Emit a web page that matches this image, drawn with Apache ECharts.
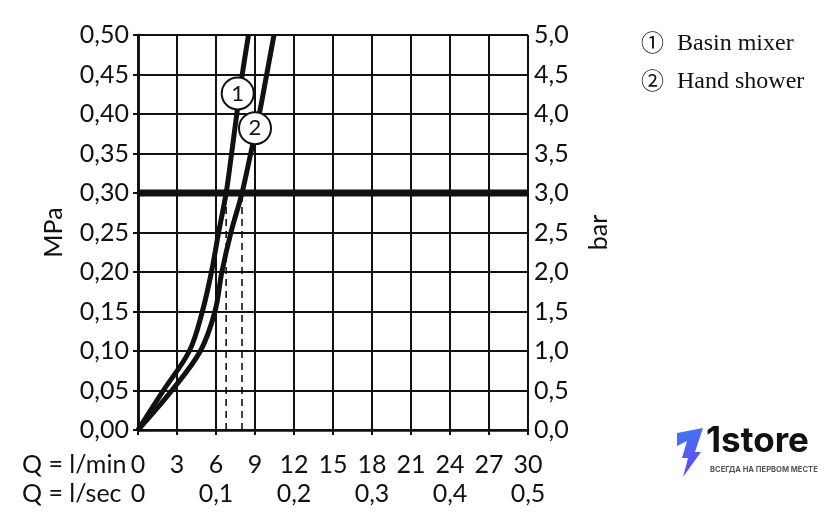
<!DOCTYPE html>
<html>
<head>
<meta charset="utf-8">
<script src="https://cdn.jsdelivr.net/npm/echarts@6/dist/echarts.min.js"></script>
<style>
html,body{margin:0;padding:0;background:#fff;}
#chart{width:840px;height:528px;}
</style>
</head>
<body>
<div id="chart"></div>
<script>
// ---- data (flow in l/min, pressure in MPa) ----
var basinMixer = [[0,0],[1.95,0.05],[3.95,0.10],[4.95,0.15],[5.65,0.20],[6.2,0.25],[6.78,0.30],[7.2,0.35],[7.6,0.40],[8.02,0.45],[8.5,0.50]];
var handShower = [[0,0],[2.6,0.05],[4.8,0.10],[5.92,0.15],[6.45,0.20],[7.15,0.25],[8.0,0.30],[8.67,0.35],[9.33,0.40],[9.9,0.45],[10.46,0.50]];
var refPressure = 0.30;           // MPa, 3 bar reference line
var dropFlows = [6.78, 8.0];      // l/min read at 3 bar
var curveLabels = [[7.67, 0.426, '1'], [9.0, 0.382, '2']];
var legendMarks = ['①', '②'];
var legendNames = ['Basin mixer', 'Hand shower'];
var flowMin = 0, flowMax = 30, flowStep = 3;
var secMin = 0, secMax = 0.5, secStep = 0.1;
var mpaMin = 0, mpaMax = 0.5, mpaStep = 0.05;
var barMin = 0, barMax = 5, barStep = 0.5;

var INK = '#111';
var FONT = 'Lato, "Open Sans", sans-serif';
var FS = 25;
var SERIF = '"Liberation Serif", "Noto Sans CJK SC", serif';

var chart = echarts.init(document.getElementById('chart'), null, {renderer: 'canvas'});

function dashedDrop(x) {
  return {
    type: 'line', data: [[x, 0], [x, refPressure]], symbol: 'none', silent: true,
    lineStyle: {color: INK, width: 1.6, type: [7, 5]}, z: 2
  };
}

var option = {
  backgroundColor: '#fff',
  animation: false,
  grid: {left: 138, right: 312, top: 35, bottom: 98, containLabel: false},
  xAxis: [{
    type: 'value', min: flowMin, max: flowMax, interval: flowStep, position: 'bottom',
    axisLine: {show: true, onZero: false, lineStyle: {color: INK, width: 2.5}},
    axisTick: {show: true, length: 5, lineStyle: {color: INK, width: 2}},
    axisLabel: {color: INK, fontFamily: FONT, fontSize: FS, margin: 22},
    splitLine: {show: true, lineStyle: {color: INK, width: 2}}
  }, {
    type: 'value', min: secMin, max: secMax, interval: secStep, position: 'bottom',
    axisLine: {show: false}, axisTick: {show: false}, splitLine: {show: false},
    axisLabel: {color: INK, fontFamily: FONT, fontSize: FS, margin: 51,
      formatter: function (v) { return v === 0 ? '0' : v.toFixed(1).replace('.', ','); }}
  }],
  yAxis: [{
    type: 'value', min: mpaMin, max: mpaMax, interval: mpaStep, position: 'left',
    name: 'MPa', nameLocation: 'middle', nameRotate: 90, nameGap: 72,
    nameTextStyle: {color: INK, fontFamily: FONT, fontSize: FS},
    axisLine: {show: true, lineStyle: {color: INK, width: 2.5}},
    axisTick: {show: true, length: 5, lineStyle: {color: INK, width: 2}},
    axisLabel: {color: INK, fontFamily: FONT, fontSize: FS, margin: 9,
      formatter: function (v) { return v.toFixed(2).replace('.', ','); }},
    splitLine: {show: true, lineStyle: {color: INK, width: 2}}
  }, {
    type: 'value', min: barMin, max: barMax, interval: barStep, position: 'right',
    name: 'bar', nameLocation: 'middle', nameRotate: 90, nameGap: 58,
    nameTextStyle: {color: INK, fontFamily: FONT, fontSize: FS},
    axisLine: {show: true, lineStyle: {color: INK, width: 2.5}},
    axisTick: {show: true, length: 5, lineStyle: {color: INK, width: 2}},
    axisLabel: {color: INK, fontFamily: FONT, fontSize: FS, margin: 6,
      formatter: function (v) { return v.toFixed(1).replace('.', ','); }},
    splitLine: {show: false}
  }],
  series: [
    dashedDrop(dropFlows[0]),
    dashedDrop(dropFlows[1]),
    {
      type: 'line', data: [[flowMin, refPressure], [flowMax, refPressure]], symbol: 'none', silent: true,
      lineStyle: {color: INK, width: 7}, z: 3
    },
    {
      name: 'Basin mixer', type: 'line', data: basinMixer, smooth: 0.35, symbol: 'none',
      lineStyle: {color: INK, width: 5}, z: 4
    },
    {
      name: 'Hand shower', type: 'line', data: handShower, smooth: 0.35, symbol: 'none',
      lineStyle: {color: INK, width: 5}, z: 4
    },
    {
      type: 'scatter', data: curveLabels, symbol: 'circle', symbolSize: 32, z: 6,
      itemStyle: {color: '#fff', borderColor: INK, borderWidth: 2, opacity: 1},
      label: {show: true, position: 'inside', color: INK, fontFamily: FONT, fontSize: 22,
        formatter: function (p) { return p.data[2]; }}
    }
  ],
  graphic: [
    {type: 'text', left: 22, top: 452, style: {text: 'Q = l/min', fill: INK, font: FS + 'px ' + FONT}},
    {type: 'text', left: 22, top: 481, style: {text: 'Q = l/sec', fill: INK, font: FS + 'px ' + FONT}},
    {type: 'text', left: 641, top: 33, style: {text: legendMarks[0], fill: INK, font: '23px ' + SERIF}},
    {type: 'text', left: 677, top: 32, style: {text: legendNames[0], fill: INK, font: '24px ' + SERIF}},
    {type: 'text', left: 641, top: 71, style: {text: legendMarks[1], fill: INK, font: '23px ' + SERIF}},
    {type: 'text', left: 677, top: 70, style: {text: legendNames[1], fill: INK, font: '24px ' + SERIF}},
    {
      type: 'polygon', shape: {points: [[677,433],[703,428],[695,452],[701,452],[683,477],[688,458],[682,458],[687,441],[677,446]]},
      style: {fill: new echarts.graphic.LinearGradient(0, 0, 1, 1, [{offset: 0, color: '#3d7bf7'}, {offset: 1, color: '#6a3ff0'}])}
    },
    {type: 'text', left: 706, top: 424, style: {text: '1store', fill: '#111', font: 'bold 35px Inter, "Noto Sans", sans-serif'}},
    {type: 'text', left: 710, top: 466, style: {text: 'ВСЕГДА НА ПЕРВОМ МЕСТЕ', fill: '#555', font: 'bold 7.6px Inter, "Noto Sans", sans-serif'}}
  ]
};
chart.setOption(option);
</script>
</body>
</html>
